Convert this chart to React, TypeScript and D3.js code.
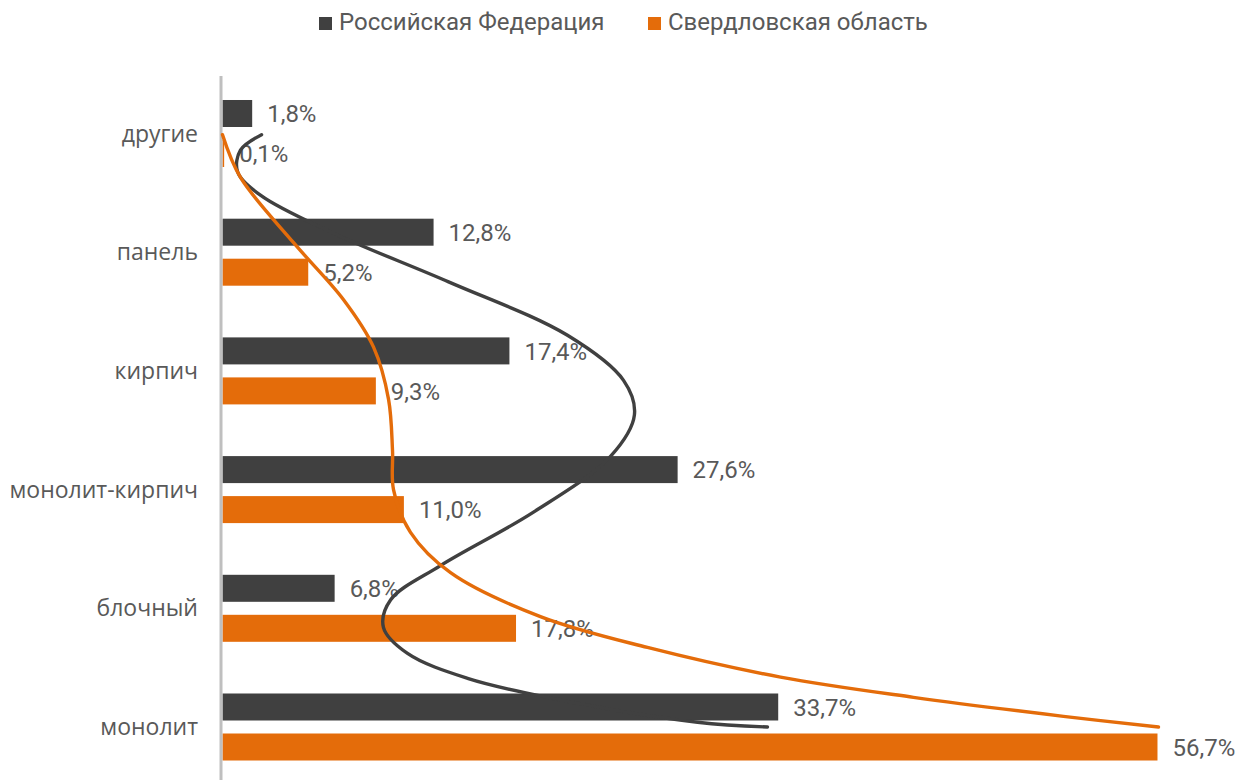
import { useEffect, useRef } from 'react';
import * as d3 from 'd3';

// categories top to bottom
const categories = ['другие', 'панель', 'кирпич', 'монолит-кирпич', 'блочный', 'монолит'];
const seriesNames = ['Российская Федерация', 'Свердловская область'];
const rfValues = [1.8, 12.8, 17.4, 27.6, 6.8, 33.7];
const soValues = [0.1, 5.2, 9.3, 11.0, 17.8, 56.7];
const colors = ['#404040', '#E46C0A'];

// hand-drawn curves over the chart: [percent, category position (0 = first, 5 = last)]
const rfCurve: [number, number][] = [
  [2.37, 0.01], [1.09, 0.14], [0.91, 0.32], [2.3, 0.52], [6.73, 0.84], [13.71, 1.25],
  [20.92, 1.7], [24.32, 2.08], [24.98, 2.37], [23.53, 2.72], [18.86, 3.19], [13.22, 3.64],
  [10.19, 3.93], [9.76, 4.16], [11.22, 4.38], [14.86, 4.59], [19.71, 4.75], [28.81, 4.96],
  [33.05, 5.0],
];
const soCurve: [number, number][] = [
  [0, 0.01], [1.09, 0.37], [4.31, 0.92], [7.34, 1.4], [9.16, 1.8], [10.07, 2.24],
  [10.31, 2.67], [10.37, 3.0], [11.4, 3.36], [13.83, 3.7], [19.28, 4.07], [25.77, 4.33],
  [33.84, 4.58], [41.9, 4.75], [51.0, 4.91], [56.76, 5.0],
];

const fmt = (v: number) => v.toFixed(1).replace('.', ',') + '%';

export default function App() {
  const svgRef = useRef<SVGSVGElement>(null);

  useEffect(() => {
    if (!svgRef.current) return;
    const svg = d3.select(svgRef.current);
    svg.selectAll('*').remove();

    const x = d3.scaleLinear().domain([0, 60]).range([222.5, 1211.9]);
    const y = d3
      .scaleBand<string>()
      .domain(categories)
      .range([74.15, 786.35])
      .paddingInner(0.4355)
      .paddingOuter(0.4355 / 2);
    const ys = d3
      .scaleBand<string>()
      .domain(seriesNames)
      .range([0, y.bandwidth()])
      .paddingInner(0.325);
    const pos = d3
      .scaleLinear()
      .domain([0, categories.length - 1])
      .range([
        (y(categories[0]) || 0) + y.bandwidth() / 2,
        (y(categories[categories.length - 1]) || 0) + y.bandwidth() / 2,
      ]);

    const values = [rfValues, soValues];

    // bars
    seriesNames.forEach((s, si) => {
      svg
        .append('g')
        .selectAll('rect')
        .data(categories)
        .join('rect')
        .attr('x', x(0))
        .attr('y', (c) => (y(c) || 0) + (ys(s) || 0))
        .attr('width', (_, i) => x(values[si][i]) - x(0))
        .attr('height', ys.bandwidth())
        .attr('fill', colors[si]);
    });

    // axis line
    svg
      .append('line')
      .attr('x1', x(0) - 1.5)
      .attr('x2', x(0) - 1.5)
      .attr('y1', 76)
      .attr('y2', 790)
      .attr('stroke', '#BFBFBF')
      .attr('stroke-width', 3);

    // category labels
    svg
      .append('g')
      .selectAll('text')
      .data(categories)
      .join('text')
      .attr('x', 198)
      .attr('y', (c) => (y(c) || 0) + y.bandwidth() / 2)
      .attr('dy', '0.35em')
      .attr('text-anchor', 'end')
      .attr('font-family', '"Open Sans", sans-serif')
      .attr('font-size', 23)
      .attr('fill', '#595959')
      .text((c) => c);

    // value labels
    seriesNames.forEach((s, si) => {
      svg
        .append('g')
        .selectAll('text')
        .data(categories)
        .join('text')
        .attr('x', (_, i) => x(values[si][i]) + 15)
        .attr('y', (c) => (y(c) || 0) + (ys(s) || 0) + ys.bandwidth() / 2)
        .attr('dy', '0.36em')
        .attr('font-family', 'Roboto, sans-serif')
        .attr('font-size', 24)
        .attr('fill', '#595959')
        .text((_, i) => fmt(values[si][i]));
    });

    // curves
    const line = d3
      .line<[number, number]>()
      .x((d) => x(d[0]))
      .y((d) => pos(d[1]))
      .curve(d3.curveCatmullRom.alpha(0.5));
    [rfCurve, soCurve].forEach((pts, i) => {
      svg
        .append('path')
        .attr('d', line(pts))
        .attr('fill', 'none')
        .attr('stroke', colors[i])
        .attr('stroke-width', 3.4)
        .attr('stroke-linecap', 'round')
        .attr('stroke-linejoin', 'round');
    });

    // legend
    const legendX = [319, 648];
    const lg = svg
      .append('g')
      .selectAll('g')
      .data(seriesNames)
      .join('g')
      .attr('transform', (_, i) => `translate(${legendX[i]},0)`);
    lg.append('rect')
      .attr('x', 0)
      .attr('y', 17)
      .attr('width', 13)
      .attr('height', 13)
      .attr('fill', (_, i) => colors[i]);
    lg.append('text')
      .attr('x', 20)
      .attr('y', 30)
      .attr('font-family', 'Roboto, sans-serif')
      .attr('font-size', 24)
      .attr('fill', '#595959')
      .text((d) => d);
  }, []);

  return (
    <svg
      ref={svgRef}
      width={1250}
      height={780}
      style={{ position: 'absolute', left: 0, top: 0, background: '#fff' }}
    />
  );
}
